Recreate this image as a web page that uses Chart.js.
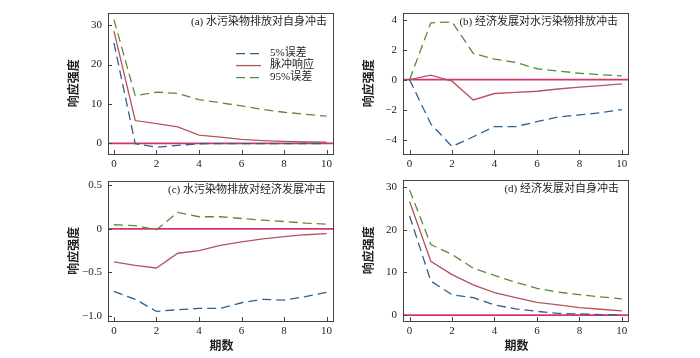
<!DOCTYPE html>
<html><head><meta charset="utf-8">
<script src="https://cdn.jsdelivr.net/npm/chart.js@4.4.1/dist/chart.umd.min.js"></script>
<style>
html,body{margin:0;padding:0;background:#fff;}
#wrap{position:relative;width:700px;height:358px;overflow:hidden;background:#fff;}
canvas{position:absolute;}
</style></head><body><div id="wrap"></div>
<script>
// ---------- data ----------
const periods = [0,1,2,3,4,5,6,7,8,9,10];
const xTickValues = [0,2,4,6,8,10];
const legendLabels = ['5%误差','脉冲响应','95%误差'];
const yAxisTitle = '响应强度';
const xAxisTitle = '期数';

const titleA = '(a) 水污染物排放对自身冲击';
const aLow  = [25.5, -0.1, -1.0, -0.5, -0.1, -0.08, -0.06, -0.05, -0.05, -0.04, -0.04];
const aIrf  = [28.5, 5.8, 5.0, 4.2, 2.1, 1.6, 1.0, 0.7, 0.5, 0.35, 0.3];
const aHigh = [31.4, 12.1, 13.0, 12.7, 11.1, 10.3, 9.5, 8.6, 7.9, 7.4, 6.9];
const aYTicks = [0,10,20,30];

const titleB = '(b) 经济发展对水污染物排放冲击';
const bLow  = [0, -2.95, -4.45, -3.8, -3.12, -3.12, -2.8, -2.48, -2.35, -2.2, -1.99];
const bIrf  = [0, 0.3, -0.1, -1.35, -0.92, -0.85, -0.77, -0.62, -0.5, -0.4, -0.28];
const bHigh = [0, 3.79, 3.85, 1.75, 1.37, 1.15, 0.73, 0.58, 0.43, 0.33, 0.26];
const bYTicks = [-4,-2,0,2,4];

const titleC = '(c) 水污染物排放对经济发展冲击';
const cLow  = [-0.72, -0.81, -0.95, -0.93, -0.915, -0.915, -0.85, -0.81, -0.82, -0.78, -0.73];
const cIrf  = [-0.38, -0.42, -0.45, -0.28, -0.25, -0.19, -0.15, -0.115, -0.09, -0.067, -0.055];
const cHigh = [0.048, 0.037, -0.01, 0.19, 0.14, 0.14, 0.12, 0.10, 0.085, 0.067, 0.055];
const cYTicks = [-1.0,-0.5,0,0.5];

const titleD = '(d) 经济发展对自身冲击';
const dLow  = [23.2, 8.0, 4.8, 4.1, 2.4, 1.5, 0.9, 0.45, 0.3, 0.15, 0.05];
const dIrf  = [26.6, 12.6, 9.5, 7.1, 5.3, 4.1, 3.0, 2.4, 1.8, 1.4, 1.0];
const dHigh = [29.3, 16.5, 14.2, 11.0, 9.3, 7.7, 6.3, 5.4, 4.8, 4.3, 3.8];
const dYTicks = [0,10,20,30];

// ---------- styles ----------
const BLUE = '#2f5f8f', RED = '#b4545c', GREEN = '#5b8a38', ZERO = '#d8336a', FRAME = '#444';
const SERIF = '"Liberation Serif","Noto Sans CJK SC",serif';
const DASH = [9,5];
const LM = 68, TM = 8, RM = 7, BM = 36;

const framePlugin = {
  id: 'frame',
  beforeDatasetsDraw(chart) {
    const ctx = chart.ctx, a = chart.chartArea;
    const y0 = chart.scales.y.getPixelForValue(0);
    ctx.save();
    ctx.strokeStyle = ZERO; ctx.lineWidth = 1.8;
    ctx.beginPath(); ctx.moveTo(a.left, y0); ctx.lineTo(a.right, y0); ctx.stroke();
    ctx.restore();
  },
  afterDraw(chart, args, opts) {
    const ctx = chart.ctx, a = chart.chartArea;
    const xs = chart.scales.x, ys = chart.scales.y;
    ctx.save();
    // frame
    ctx.strokeStyle = FRAME; ctx.lineWidth = 1;
    ctx.strokeRect(Math.round(a.left)+0.5, Math.round(a.top)+0.5, Math.round(a.right-a.left), Math.round(a.bottom-a.top));
    // inward ticks
    ctx.beginPath();
    xs.ticks.forEach(t => { const px = Math.round(xs.getPixelForValue(t.value))+0.5; ctx.moveTo(px, a.bottom); ctx.lineTo(px, a.bottom-4); });
    ys.ticks.forEach(t => { const py = Math.round(ys.getPixelForValue(t.value))+0.5; ctx.moveTo(a.left, py); ctx.lineTo(a.left+4, py); });
    ctx.stroke();
    // title
    ctx.fillStyle = '#222';
    ctx.font = '11px ' + SERIF;
    ctx.textAlign = 'right'; ctx.textBaseline = 'middle';
    ctx.fillText(opts.title, a.right - opts.titleInset, a.top + 10);
    // y axis title
    ctx.save();
    ctx.font = 'bold 12px ' + SERIF;
    ctx.translate(a.left - 33, (a.top + a.bottom)/2);
    ctx.rotate(-Math.PI/2);
    ctx.textAlign = 'center'; ctx.textBaseline = 'middle';
    ctx.fillText(yAxisTitle, 0, 0);
    ctx.restore();
    // x axis title
    if (opts.xlabel) {
      ctx.font = 'bold 12px ' + SERIF;
      ctx.textAlign = 'center'; ctx.textBaseline = 'middle';
      ctx.fillText(xAxisTitle, (a.left + a.right)/2 + 1, a.bottom + 26);
    }
    // legend
    if (opts.legend) {
      const ds = chart.data.datasets;
      const order = [0,1,2];
      ctx.font = '11px ' + SERIF;
      ctx.textAlign = 'left'; ctx.textBaseline = 'middle';
      order.forEach((i, k) => {
        const d = ds[i];
        const y = a.top + 41 + k * 12;
        const x0 = a.left + 128;
        ctx.strokeStyle = d.borderColor; ctx.lineWidth = 1.3;
        ctx.setLineDash(d.borderDash || []);
        ctx.beginPath(); ctx.moveTo(x0, y); ctx.lineTo(x0 + 25, y); ctx.stroke();
        ctx.setLineDash([]);
        ctx.fillStyle = '#222';
        ctx.fillText(d.label, x0 + 34, y);
      });
    }
    ctx.restore();
  }
};

function fmt(v, dec) {
  let s = (v === 0) ? '0' : v.toFixed(dec);
  return s.replace('-', '\u2212');
}

function makePanel(cfg) {
  const w = (cfg.pr - cfg.pl) + LM + RM;
  const h = (cfg.pb - cfg.pt) + TM + BM;
  const cv = document.createElement('canvas');
  cv.width = w; cv.height = h;
  cv.style.left = (cfg.pl - LM) + 'px';
  cv.style.top = (cfg.pt - TM) + 'px';
  cv.style.width = w + 'px'; cv.style.height = h + 'px';
  document.getElementById('wrap').appendChild(cv);
  const mk = (arr) => periods.map((p, i) => ({x: p, y: arr[i]}));
  new Chart(cv, {
    type: 'line',
    data: { datasets: [
      { label: legendLabels[0], data: mk(cfg.low),  borderColor: BLUE,  borderDash: DASH, borderWidth: 1.3, pointRadius: 0, tension: 0, fill: false },
      { label: legendLabels[1], data: mk(cfg.irf),  borderColor: RED,   borderWidth: 1.3, pointRadius: 0, tension: 0, fill: false },
      { label: legendLabels[2], data: mk(cfg.high), borderColor: GREEN, borderDash: DASH, borderWidth: 1.3, pointRadius: 0, tension: 0, fill: false }
    ]},
    options: {
      responsive: false, animation: false, devicePixelRatio: 1,
      layout: { padding: { top: TM, right: RM, left: 0, bottom: 0 } },
      plugins: { legend: { display: false }, tooltip: { enabled: false },
        frame: { title: cfg.title, titleInset: cfg.titleInset, legend: !!cfg.legend, xlabel: !!cfg.xlabel } },
      scales: {
        x: { type: 'linear', min: cfg.xmin, max: cfg.xmax,
             afterBuildTicks: s => { s.ticks = xTickValues.map(v => ({value: v})); },
             afterFit: s => { s.height = BM; },
             grid: { display: false, drawTicks: false }, border: { display: false },
             ticks: { padding: 4, color: '#222', font: { family: SERIF, size: 11 }, callback: v => fmt(v, 0), maxRotation: 0, autoSkip: false } },
        y: { type: 'linear', min: cfg.ymin, max: cfg.ymax,
             afterBuildTicks: s => { s.ticks = cfg.yticks.map(v => ({value: v})); },
             afterFit: s => { s.width = LM; },
             grid: { display: false, drawTicks: false }, border: { display: false },
             ticks: { padding: 6, color: '#222', font: { family: SERIF, size: 11 }, callback: v => fmt(v, cfg.dec), autoSkip: false } }
      }
    },
    plugins: [framePlugin]
  });
}

makePanel({ pl:108, pr:333, pt:8, pb:154, xmin:-0.28, xmax:10.3, ymin:-2.7, ymax:33.2, yticks:aYTicks, dec:0,
  low:aLow, irf:aIrf, high:aHigh, title:titleA, titleInset:6, legend:true });
makePanel({ pl:403, pr:628, pt:8, pb:154, xmin:-0.31, xmax:10.29, ymin:-4.95, ymax:4.47, yticks:bYTicks, dec:0,
  low:bLow, irf:bIrf, high:bHigh, title:titleB, titleInset:10 });
makePanel({ pl:108, pr:333, pt:176, pb:321, xmin:-0.28, xmax:10.3, ymin:-1.06, ymax:0.556, yticks:cYTicks, dec:1,
  low:cLow, irf:cIrf, high:cHigh, title:titleC, titleInset:7, xlabel:true });
makePanel({ pl:403, pr:628, pt:175, pb:321, xmin:-0.31, xmax:10.29, ymin:-1.35, ymax:31.7, yticks:dYTicks, dec:0,
  low:dLow, irf:dIrf, high:dHigh, title:titleD, titleInset:9, xlabel:true });
</script>
</body></html>
